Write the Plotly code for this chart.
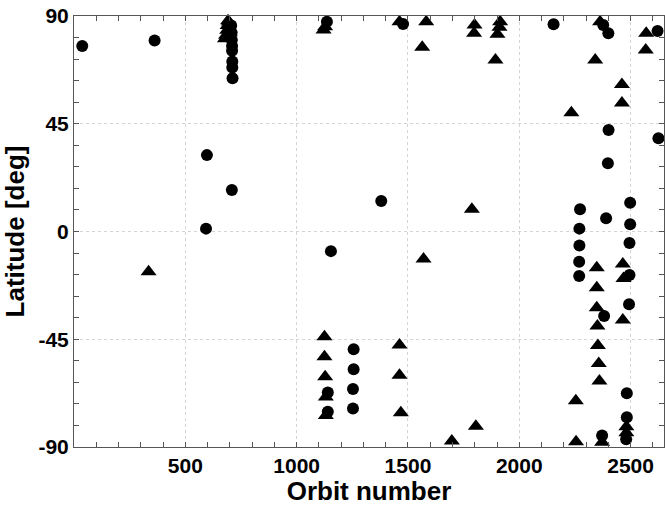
import plotly.graph_objects as go

# Circles (orbit number, latitude)
circle_orbit = [37, 362, 597, 593, 709,
                706, 708, 709, 710, 710, 711, 711, 712,
                1154, 1136, 1478,
                1256, 1256, 1253, 1253, 1140, 1140,
                1380, 2154, 2377, 2400,
                2401, 2398, 2625, 2621,
                2273, 2270, 2270, 2269, 2269,
                2390, 2498, 2498, 2495, 2495, 2493,
                2381, 2372, 2483, 2483, 2480]
circle_lat = [77.5, 79.8, 31.9, 1.2, 17.3,
              86, 83, 80, 77.5, 75.5, 71, 68.5, 64,
              -8.2, 87.6, 86.7,
              -49.2, -57.5, -65.8, -73.9, -67.2, -75.3,
              12.7, 86.6, 86.2, 82.8,
              42.4, 28.5, 38.9, 83.7,
              9.3, 1.2, -5.8, -12.6, -18.6,
              5.5, 12, 3, -4.8, -18.2, -30.4,
              -35.3, -85.2, -67.6, -77.6, -86.8]

# Triangles (orbit number, latitude)
tri_orbit = [335,
             678, 683, 688, 690, 692, 696, 698, 700,
             1121, 1128,
             1125, 1125, 1128, 1131, 1131,
             1462, 1462, 1462, 1468,
             1570, 1582, 1564, 1697, 1787, 1805,
             1799, 1797, 1914, 1911, 1902, 1893,
             2363, 2341, 2461, 2461, 2234, 2570, 2568,
             2348, 2348, 2348, 2351, 2353, 2357, 2360,
             2465, 2468, 2465, 2254, 2255, 2372, 2481, 2481]
tri_lat = [-16.8,
           80.5, 82, 84, 86, 88, 87.5, 85, 83,
           84.2, 85.5,
           -44, -52.3, -60.7, -69.1, -76.8,
           87.6, -47.4, -60, -75.7,
           -11.5, 87.6, 76.9, -87.5, 9.3, -81.3,
           86.2, 82.8, 87.6, 85.3, 82.4, 71.6,
           87.6, 71.6, 61.4, 53.7, 49.6, 82.8, 75.8,
           -15.1, -23.5, -31.8, -39.5, -47.6, -55.1, -62.4,
           -13.6, -19.6, -37, -70.7, -87.8, -88, -81.5, -84]

x_ticks = [500, 1000, 1500, 2000, 2500]
x_labels = ["500", "1000", "1500", "2000", "2500"]
y_ticks = [-90, -45, 0, 45, 90]
y_labels = ["-90", "-45", "0", "45", "90"]

FONT = "Liberation Sans, Arial, sans-serif"

fig = go.Figure()
fig.add_trace(go.Scatter(x=tri_orbit, y=tri_lat, mode="markers",
                         marker=dict(symbol="triangle-up", size=14, color="black"),
                         cliponaxis=False, showlegend=False))
fig.add_trace(go.Scatter(x=circle_orbit, y=circle_lat, mode="markers",
                         marker=dict(symbol="circle", size=12, color="black"),
                         cliponaxis=False, showlegend=False))

axis_common = dict(
    showline=True, linecolor="#555", linewidth=1, mirror="ticks",
    ticks="inside", ticklen=5, tickcolor="#555",
    showgrid=True, gridcolor="#d4d4d4", griddash="dot", gridwidth=1,
    zeroline=False,
    tickfont=dict(family=FONT, size=21, color="black", weight="bold"),
)

fig.update_xaxes(range=[0, 2650], tickvals=x_ticks, ticktext=x_labels,
                 minor=dict(dtick=100, tick0=0, ticks="inside", ticklen=5, tickcolor="#555", showgrid=False),
                 title=dict(text="Orbit number", standoff=0,
                            font=dict(family=FONT, size=26, color="black", weight="bold")),
                 **axis_common)
fig.update_yaxes(range=[-90, 90], tickvals=y_ticks, ticktext=y_labels,
                 minor=dict(dtick=9, tick0=0, ticks="inside", ticklen=5, tickcolor="#555", showgrid=False),
                 title=dict(text="Latitude [deg]", standoff=6,
                            font=dict(family=FONT, size=26, color="black", weight="bold")),
                 **axis_common)

fig.update_layout(width=665, height=506,
                  margin=dict(l=74, r=1, t=16, b=59, autoexpand=False),
                  plot_bgcolor="white", paper_bgcolor="white")

fig.write_html("out.html", config={"displayModeBar": False},
               post_script="document.body.style.margin='0px';document.body.style.overflow='hidden';")
